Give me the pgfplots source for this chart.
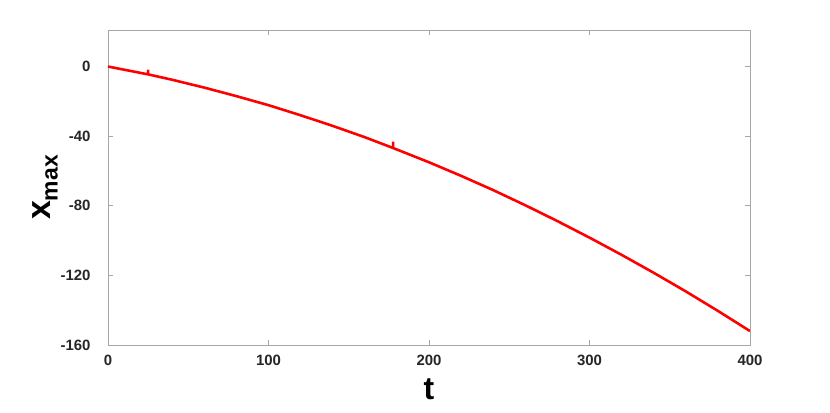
\documentclass[border=0pt]{standalone}
\usepackage{fontspec}
\setmainfont{Liberation Sans}
\usepackage{pgfplots}
\pgfplotsset{compat=1.18}
\usetikzlibrary{calc}
\begin{document}
\begin{tikzpicture}
\begin{axis}[
  name=ax,
  scale only axis,
  width=642bp, height=315bp,
  xmin=0, xmax=400, ymin=-160, ymax=21,
  xtick={0,100,200,300,400},
  ytick={0,-40,-80,-120,-160},
  tick align=inside,
  major tick length=5bp,
  axis line style={gray!70, line width=0.8pt},
  tick style={gray!70, line width=0.6pt},
  /pgf/number format/assume math mode=true,
  ticklabel style={font=\fontsize{15}{16}\selectfont\bfseries, text=black!85},
  xticklabel style={yshift=-7bp},
  yticklabel style={xshift=-14bp},
  xlabel={\fontsize{32}{34}\selectfont\bfseries t},
  ylabel={\fontsize{34}{36}\selectfont\bfseries x\raisebox{-0.4ex}{\fontsize{23}{24}\selectfont max}},
  xlabel style={yshift=-6bp},
  ylabel style={yshift=-4bp},
]
\addplot[red, line width=2.6pt] coordinates {
(0,0) (10,-1.8) (20,-3.6) (25,-4.5) (25,-1.8) (25,-4.5) (40,-7.6) (60,-12.1) (80,-17.0)
(100,-22.2) (120,-28.0) (140,-34.1) (160,-40.6) (177.6,-46.8) (177.6,-43.2) (177.6,-46.8)
(200,-55.0) (220,-62.8) (240,-71.0) (260,-79.7) (280,-88.8) (300,-98.3)
(320,-108.2) (340,-118.5) (360,-129.2) (380,-140.4) (400,-152.0)
};
\end{axis}
\path ($(ax.south west)+(-108bp,-68bp)$) rectangle ($(ax.north east)+(80bp,30bp)$);
\end{tikzpicture}
\end{document}
